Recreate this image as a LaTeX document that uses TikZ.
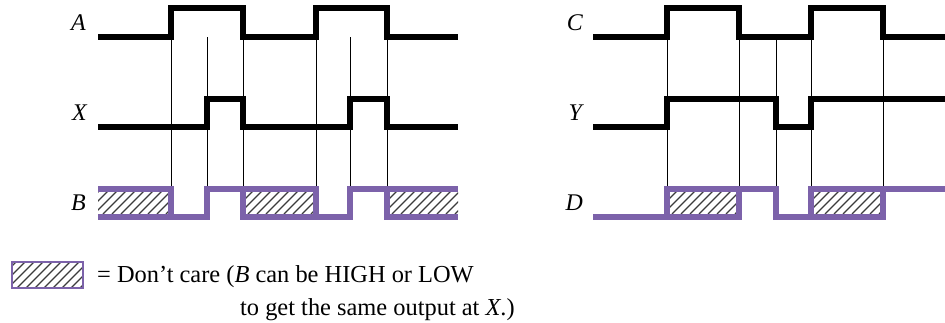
\documentclass[tikz,border=0pt]{standalone}
\usepackage{fontspec}
\setmainfont{Liberation Serif}
\definecolor{sigpurple}{RGB}{124,98,170}
\definecolor{hatchgray}{RGB}{60,60,60}
\newcommand\myhatch[4]{%
  \begin{scope}
    \clip (#1,#2) rectangle (#3,#4);
    \foreach \k in {-40,-31,...,90} \draw[hatchline] (#1+\k,#4) -- ++(40,-40);
  \end{scope}}
\begin{document}
\begin{tikzpicture}[x=1bp,y=-1bp,
  sig/.style={line width=6bp,line join=miter,line cap=butt,black},
  psig/.style={line width=6bp,line join=miter,line cap=butt,sigpurple},
  guide/.style={line width=0.9bp,black},
  hatchline/.style={line width=1.1bp,hatchgray},
  lbl/.style={font=\fontsize{24}{29}\selectfont\itshape,anchor=base east,inner sep=0pt},
  txt/.style={font=\fontsize{24.5}{29}\selectfont,anchor=base west,inner sep=0pt}]
\useasboundingbox (0,0) rectangle (945,322);
\fill[white] (0,0) rectangle (945,322);

% guide lines (left)
\foreach \x in {171,207,243,316,350,387} \draw[guide] (\x,37) -- (\x,189);
% guide lines (right)
\foreach \x in {667,739,776,811,883} \draw[guide] (\x,37) -- (\x,189);

% hatching
\myhatch{98}{192}{171}{214}
\myhatch{243}{192}{316}{214}
\myhatch{387}{192}{458}{214}
\myhatch{667}{192}{739}{214}
\myhatch{811}{192}{883}{214}

% labels left
\node[lbl] (la) at (86,30) {A};
\node[lbl] (lx) at (87,120) {X};
\node[lbl] (lb) at (86,210) {B};
% labels right
\node[lbl] (lc) at (583,30) {C};
\node[lbl] (ly) at (582,120) {Y};
\node[lbl] (ld) at (583,210) {D};

% A
\draw[sig] (98,37) -- (171,37) -- (171,8) -- (243,8) -- (243,37) -- (316,37) -- (316,8) -- (387,8) -- (387,37) -- (458,37);
% X
\draw[sig] (98,126.5) -- (207,126.5) -- (207,99) -- (243,99) -- (243,126.5) -- (350,126.5) -- (350,99) -- (387,99) -- (387,126.5) -- (458,126.5);
% B
\draw[psig] (98,189) -- (171,189) -- (171,216.5);
\draw[psig] (98,216.5) -- (207,216.5) -- (207,189) -- (316,189) -- (316,216.5) -- (350,216.5) -- (350,189) -- (458,189);
\draw[psig] (243,189) -- (243,216.5) -- (316,216.5);
\draw[psig] (387,189) -- (387,216.5) -- (458,216.5);

% C
\draw[sig] (593,37) -- (667,37) -- (667,8) -- (739,8) -- (739,37) -- (811,37) -- (811,8) -- (883,8) -- (883,37) -- (945,37);
% Y
\draw[sig] (593,127) -- (667,127) -- (667,99) -- (776,99) -- (776,127) -- (811,127) -- (811,99) -- (945,99);
% D
\draw[psig] (593,216.5) -- (667,216.5) -- (667,189) -- (776,189) -- (776,216.5) -- (811,216.5) -- (811,189) -- (945,189);
\draw[psig] (667,216.5) -- (739,216.5) -- (739,189);
\draw[psig] (811,216.5) -- (883,216.5) -- (883,189);

% legend
\myhatch{12}{262}{83}{288}
\draw[line width=1.2bp,sigpurple] (12,262) rectangle (83,288);
\node[txt] (t1) at (97,282) {= Don’t care (\textit{B} can be HIGH or LOW};
\node[txt] (t2) at (240,315) {to get the same output at \textit{X}.)};
\end{tikzpicture}
\end{document}
